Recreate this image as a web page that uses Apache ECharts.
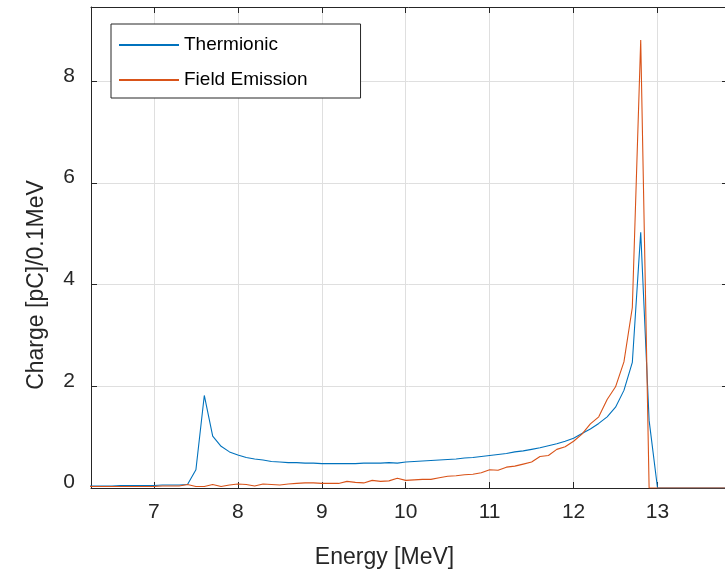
<!DOCTYPE html>
<html>
<head>
<meta charset="utf-8">
<script src="https://cdn.jsdelivr.net/npm/echarts@6/dist/echarts.min.js"></script>
<style>html,body{margin:0;padding:0;background:#fff}#c{width:725px;height:572px}</style>
</head>
<body>
<div id="c"></div>
<script>
const energy = [6.2,6.3,6.4,6.5,6.6,6.7,6.8,6.9,7.0,7.1,7.2,7.3,7.4,7.5,7.6,7.7,7.8,7.9,
  8.0,8.1,8.2,8.3,8.4,8.5,8.6,8.7,8.8,8.9,9.0,9.1,9.2,9.3,9.4,9.5,9.6,9.7,9.8,9.9,
  10.0,10.1,10.2,10.3,10.4,10.5,10.6,10.7,10.8,10.9,11.0,11.1,11.2,11.3,11.4,11.5,11.6,11.7,11.8,11.9,
  12.0,12.1,12.2,12.3,12.4,12.5,12.6,12.7,12.8,12.9,13.0,13.1,13.2,13.3,13.4,13.5,13.6,13.7,13.8,13.9];
const thermionic = [0.04,0.04,0.04,0.04,0.05,0.05,0.05,0.05,0.05,0.06,0.06,0.06,0.07,0.36,1.82,1.02,0.82,0.71,
  0.65,0.60,0.57,0.55,0.52,0.51,0.50,0.50,0.49,0.49,0.48,0.48,0.48,0.48,0.48,0.49,0.49,0.49,0.50,0.49,
  0.51,0.52,0.53,0.54,0.55,0.56,0.57,0.59,0.60,0.62,0.64,0.66,0.68,0.71,0.73,0.76,0.79,0.83,0.87,0.92,
  0.98,1.07,1.16,1.27,1.40,1.59,1.92,2.47,5.03,1.33,0,0,0,0,0,0,0,0,0,0];
const fieldEmission = [0.03,0.03,0.03,0.03,0.03,0.03,0.03,0.03,0.03,0.04,0.04,0.04,0.07,0.03,0.03,0.07,0.03,0.06,
  0.08,0.07,0.04,0.08,0.07,0.06,0.08,0.09,0.10,0.10,0.09,0.09,0.09,0.13,0.11,0.10,0.15,0.13,0.14,0.19,
  0.15,0.16,0.17,0.17,0.20,0.23,0.24,0.26,0.27,0.30,0.36,0.35,0.41,0.43,0.47,0.51,0.62,0.64,0.76,0.81,
  0.92,1.06,1.26,1.40,1.74,1.99,2.48,3.55,8.81,0,0,0,0,0,0,0,0,0,0,0];
const xTicks = [7,8,9,10,11,12,13];
const yTicks = [0,2,4,6,8];
const seriesNames = ['Thermionic','Field Emission'];
const xTitle = 'Energy [MeV]';
const yTitle = 'Charge [pC]/0.1MeV';

const FONT = 'Liberation Sans, Arial, Helvetica, sans-serif';
const AX = '#262626';
const GRID = '#dfdfdf';
const XMIN = 6.25, XMAX = 13.84, YMIN = 0, YMAX = 9.46;

const chart = echarts.init(document.getElementById('c'), null, {renderer: 'canvas'});

function pair(xs, ys) { return xs.map((x, i) => [x, ys[i]]); }

const baseX = {
  type: 'value', min: XMIN, max: XMAX,
  axisLine: {show: true, onZero: false, lineStyle: {color: AX, width: 1}},
};
const baseY = {
  type: 'value', min: YMIN, max: YMAX,
  axisLine: {show: true, onZero: false, lineStyle: {color: AX, width: 1}},
};

chart.setOption({
  animation: false,
  backgroundColor: '#fff',
  grid: {left: 91, top: 7, width: 637, height: 481, containLabel: false, outerBoundsMode: 'none'},
  xAxis: [
    Object.assign({}, baseX, {
      position: 'bottom',
      axisTick: {show: true, inside: true, length: 6, customValues: xTicks, lineStyle: {color: AX}},
      axisLabel: {show: true, customValues: xTicks, margin: 14, fontSize: 21, fontFamily: FONT, color: AX},
      splitLine: {show: true, lineStyle: {color: GRID, width: 1}}
    }),
    Object.assign({}, baseX, {
      position: 'top',
      axisTick: {show: true, inside: true, length: 6, customValues: xTicks, lineStyle: {color: AX}},
      axisLabel: {show: false},
      splitLine: {show: false}
    })
  ],
  yAxis: [
    Object.assign({}, baseY, {
      position: 'left',
      axisTick: {show: true, inside: true, length: 6, customValues: yTicks, lineStyle: {color: AX}},
      axisLabel: {show: true, customValues: yTicks, margin: 16, fontSize: 21, fontFamily: FONT, color: AX,
                  verticalAlign: 'bottom', lineHeight: 11},
      splitLine: {show: true, lineStyle: {color: GRID, width: 1}}
    }),
    Object.assign({}, baseY, {
      position: 'right',
      axisTick: {show: true, inside: true, length: 6, customValues: yTicks, lineStyle: {color: AX}},
      axisLabel: {show: false},
      splitLine: {show: false}
    })
  ],
  legend: {
    orient: 'vertical', left: 111, top: 24,
    itemWidth: 60, itemHeight: 20, itemGap: 15,
    padding: [11, 53, 8, 7],
    backgroundColor: '#fff', borderColor: AX, borderWidth: 1, borderRadius: 0,
    itemStyle: {opacity: 0},
    textStyle: {fontSize: 19, fontFamily: FONT, color: '#000', lineHeight: 20},
    data: seriesNames
  },
  graphic: [
    {type: 'text', x: 384.5, y: 558, style: {text: xTitle, font: '23px ' + FONT, fill: AX, textAlign: 'center', textVerticalAlign: 'middle'}},
    {type: 'text', x: 37, y: 285, rotation: Math.PI / 2, style: {text: yTitle, font: '23px ' + FONT, fill: AX, textAlign: 'center', textVerticalAlign: 'middle'}}
  ],
  series: [
    {name: seriesNames[0], type: 'line', xAxisIndex: 0, yAxisIndex: 0, data: pair(energy, thermionic),
     symbol: 'none', clip: true, color: '#0072BD', lineStyle: {color: '#0072BD', width: 1.1}},
    {name: seriesNames[1], type: 'line', xAxisIndex: 0, yAxisIndex: 0, data: pair(energy, fieldEmission),
     symbol: 'none', clip: true, color: '#D95319', lineStyle: {color: '#D95319', width: 1.1}}
  ]
});
</script>
</body>
</html>
